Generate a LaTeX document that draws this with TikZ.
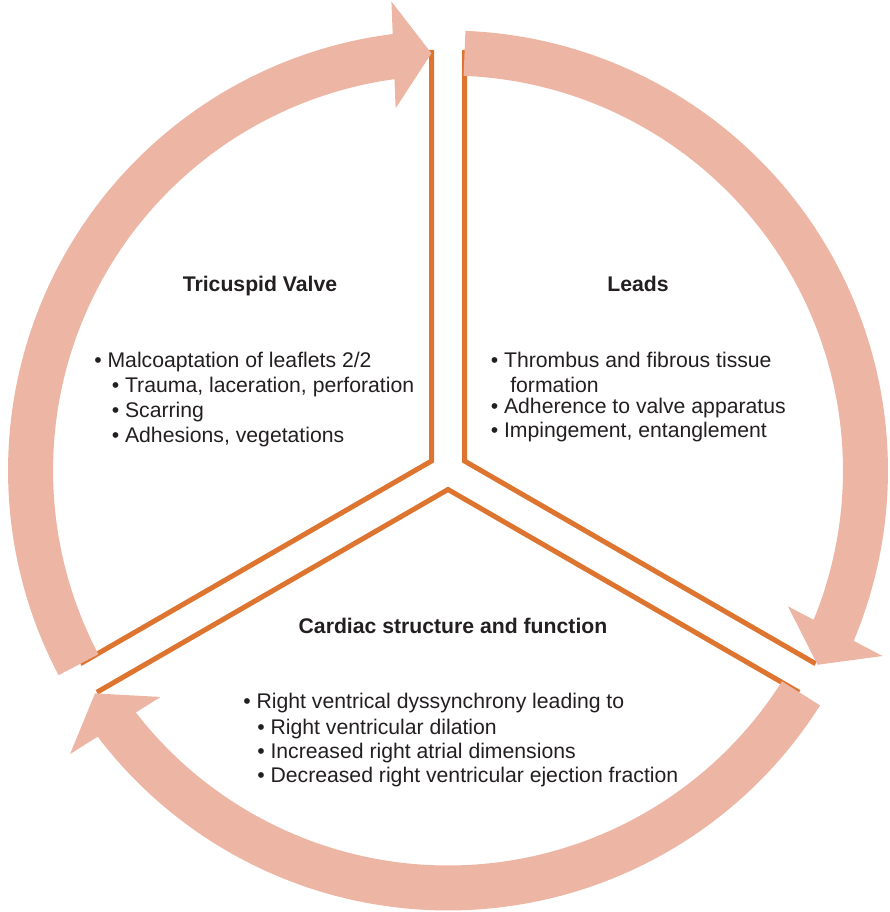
\documentclass[tikz,border=0pt]{standalone}
\usepackage{fontspec}
\setmainfont{Liberation Sans}
\usepackage{tikz}
\usetikzlibrary{calc}
\definecolor{ringpink}{RGB}{237,181,164}
\definecolor{sepline}{RGB}{221,117,49}
\definecolor{txtgray}{RGB}{35,31,32}

\begin{document}
\begin{tikzpicture}[x=0.75pt,y=0.75pt,
    ring/.style={fill=ringpink},
    sep/.style={draw=sepline,line width=3.75pt},
    item/.style={anchor=base west,inner sep=0pt,text=txtgray,font=\fontsize{15.9}{19}\selectfont},
    head/.style={anchor=base,inner sep=0pt,text=txtgray,font=\fontsize{15.9}{19}\selectfont\bfseries}]
    \useasboundingbox (-448,-441.5) rectangle (441,470.5);
    % Corners of the separating lines
    \coordinate (HL) at (-16.5,9.5);    % hub left
    \coordinate (HR) at ( 16.5,9.5);    % hub right
    \coordinate (HB) at (0,-19);        % hub bottom
    \coordinate (TL) at (-16.5,420.5);  % top left
    \coordinate (TR) at ( 16.5,420.5);  % top right
    \coordinate (LU) at (-367.6,-193.2);% lower left, upper
    \coordinate (LD) at (-351.1,-221.8);% lower left, lower
    \coordinate (RU) at ( 367.6,-193.2);% lower right, upper
    \coordinate (RD) at ( 351.1,-221.8);% lower right, lower
    \draw[sep] (TL) -- (HL) -- (LU);
    \draw[sep] (TR) -- (HR) -- (RU);
    \draw[sep] (LD) -- (HB) -- (RD);
    % Three circular arrows, each rotated to its tip
    \foreach \tip in {-27.73,-147.73,92.27}{
      \begin{scope}[rotate=\tip]
        \fill[ring] (115.46:440) arc[start angle=115.46,end angle=4.95,radius=440]
          -- (471,38) -- (417.5,0) -- (364,38)
          -- (5.52:395) arc[start angle=5.52,end angle=115.46,radius=395] -- cycle;
      \end{scope}
    }
    % Headings
    \node[head] (valve) at (-188,179) {Tricuspid Valve};
    \node[head] (leads) at (190,179) {Leads};
    \node[head] (cardiac) at (5,-163.5) {Cardiac structure and function};
    % Tricuspid valve items
    \node[item] (v1) at (-354,103.4) {\textbullet\ Malcoaptation of leaflets 2/2};
    \node[item] (v2) at (-336.5,78.4) {\textbullet\ Trauma, laceration, perforation};
    \node[item] (v3) at (-336.5,53.4) {\textbullet\ Scarring};
    \node[item] (v4) at (-336.5,28.4) {\textbullet\ Adhesions, vegetations};
    % Lead items
    \node[item] (l1) at (42.5,103.4) {\textbullet\ Thrombus and fibrous tissue};
    \node[item] (l2) at (62,78.3) {formation};
    \node[item] (l3) at (42.5,56.7) {\textbullet\ Adherence to valve apparatus};
    \node[item] (l4) at (42.5,33.3) {\textbullet\ Impingement, entanglement};
    % Cardiac items
    \node[item] (c1) at (-205,-238.3) {\textbullet\ Right ventrical dyssynchrony leading to};
    \node[item] (c2) at (-191,-264) {\textbullet\ Right ventricular dilation};
    \node[item] (c3) at (-191,-287.7) {\textbullet\ Increased right atrial dimensions};
    \node[item] (c4) at (-191,-311.7) {\textbullet\ Decreased right ventricular ejection fraction};
\end{tikzpicture}
\end{document}
